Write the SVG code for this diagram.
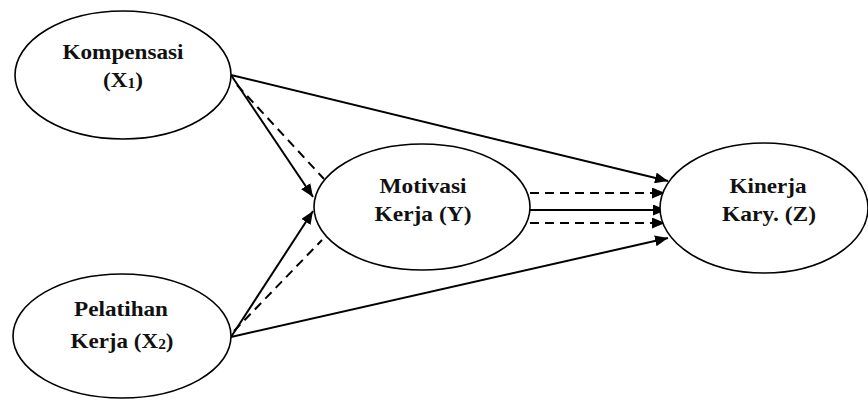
<svg xmlns="http://www.w3.org/2000/svg" width="868" height="400" viewBox="0 0 868 400">
<style>
  .node ellipse { fill: #fff; stroke: #000; stroke-width: 1.6; }
  .lbl { font-family: "Liberation Serif", "Times New Roman", serif; font-weight: bold; font-size: 21px; fill: #111; text-anchor: middle; }
  .sub { font-size: 14px; }
  .c { stroke: #000; stroke-width: 2; fill: none; }
  .arr { marker-end: url(#ah); }
  .dash { stroke-dasharray: 9 6; }
</style>
<defs>
  <marker id="ah" markerUnits="userSpaceOnUse" markerWidth="13" markerHeight="11" refX="13" refY="5.5" orient="auto">
    <path d="M0,0 L13,5.5 L0,11 z" fill="#000"/>
  </marker>
</defs>
<rect width="868" height="400" fill="#fff"/>
<g id="connectors">
  <line class="c arr" x1="231" y1="75" x2="668" y2="181"/>
  <line class="c arr" x1="231" y1="75" x2="313" y2="197"/>
  <line class="c dash" x1="237" y1="85" x2="324" y2="179"/>
  <line class="c arr" x1="231" y1="337" x2="313" y2="211"/>
  <line class="c dash" x1="234" y1="331" x2="322" y2="240"/>
  <line class="c arr" x1="231" y1="337" x2="668" y2="238"/>
  <line class="c dash arr" x1="530" y1="193" x2="665" y2="193"/>
  <line class="c arr" x1="530" y1="210" x2="666" y2="210"/>
  <line class="c dash arr" x1="530" y1="223" x2="665" y2="223"/>
</g>
<g id="kompensasi" class="node">
  <ellipse cx="123" cy="75" rx="108" ry="64"/>
  <text class="lbl" x="123" y="59" textLength="121" lengthAdjust="spacingAndGlyphs">Kompensasi</text>
  <text class="lbl" x="123" y="87" textLength="40" lengthAdjust="spacingAndGlyphs">(X<tspan class="sub" dy="1">1</tspan><tspan dy="-1">)</tspan></text>
</g>
<g id="pelatihan" class="node">
  <ellipse cx="122" cy="336" rx="109" ry="62"/>
  <text class="lbl" x="121" y="316" textLength="94" lengthAdjust="spacingAndGlyphs">Pelatihan</text>
  <text class="lbl" x="122" y="348" textLength="103" lengthAdjust="spacingAndGlyphs">Kerja (X<tspan class="sub" dy="1">2</tspan><tspan dy="-1">)</tspan></text>
</g>
<g id="motivasi" class="node">
  <ellipse cx="422" cy="207" rx="108" ry="63"/>
  <text class="lbl" x="423" y="193" textLength="87" lengthAdjust="spacingAndGlyphs">Motivasi</text>
  <text class="lbl" x="423" y="221" textLength="97" lengthAdjust="spacingAndGlyphs">Kerja (Y)</text>
</g>
<g id="kinerja" class="node">
  <ellipse cx="764" cy="208" rx="104" ry="65"/>
  <text class="lbl" x="768" y="193" textLength="77" lengthAdjust="spacingAndGlyphs">Kinerja</text>
  <text class="lbl" x="769" y="221" textLength="94" lengthAdjust="spacingAndGlyphs">Kary. (Z)</text>
</g>
</svg>
